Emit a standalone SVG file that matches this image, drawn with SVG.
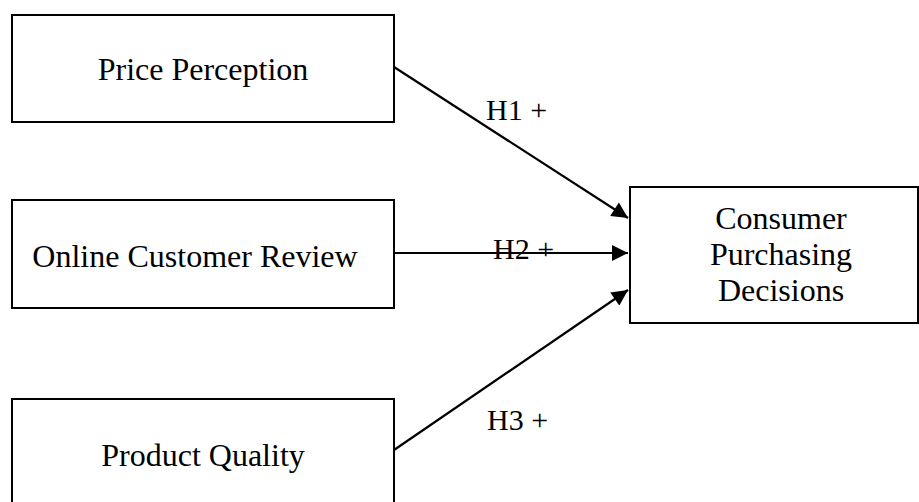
<svg xmlns="http://www.w3.org/2000/svg" width="919" height="502" viewBox="0 0 919 502">
<style>
.box{fill:#fff;stroke:#000;stroke-width:2}
.t{font-family:"Liberation Serif","Times New Roman",serif;font-size:32px;fill:#000;text-anchor:middle}
.lbl{font-family:"Liberation Serif","Times New Roman",serif;font-size:30px;fill:#000}
.c{stroke:#000;stroke-width:2.2;fill:none}
</style>
<defs>
<marker id="ah" viewBox="0 0 10 10" refX="10" refY="5" markerWidth="17" markerHeight="16" markerUnits="userSpaceOnUse" orient="auto">
<path d="M0,0 L10,5 L0,10 z" fill="#000"/>
</marker>
</defs>
<rect width="919" height="502" fill="#fff"/>
<g id="price">
<rect class="box" x="12" y="15" width="382" height="107"/>
<text class="t" x="203" y="80">Price Perception</text>
</g>
<g id="review">
<rect class="box" x="12" y="200" width="382" height="108"/>
<text class="t" x="195" y="267">Online Customer Review</text>
</g>
<g id="quality">
<rect class="box" x="12" y="399" width="382" height="106"/>
<text class="t" x="203" y="466">Product Quality</text>
</g>
<g id="decision">
<rect class="box" x="630" y="187" width="288" height="136"/>
<text class="t" x="781" y="229">Consumer</text>
<text class="t" x="781" y="265">Purchasing</text>
<text class="t" x="781" y="301">Decisions</text>
</g>
<g id="connectors">
<line class="c" x1="394" y1="67" x2="628" y2="218" marker-end="url(#ah)"/>
<line class="c" x1="394" y1="253" x2="628" y2="253" marker-end="url(#ah)"/>
<line class="c" x1="394" y1="450" x2="628" y2="290" marker-end="url(#ah)"/>
<text class="lbl" x="486" y="120">H1 +</text>
<text class="lbl" x="493" y="259">H2 +</text>
<text class="lbl" x="487" y="430">H3 +</text>
</g>
</svg>
